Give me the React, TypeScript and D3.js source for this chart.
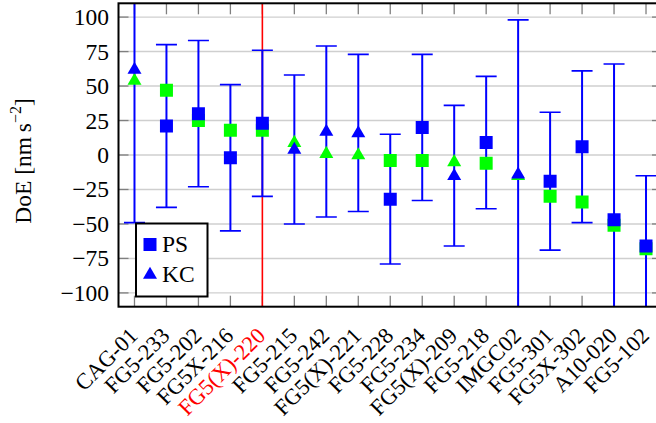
import React, { useRef, useEffect } from "react";
import * as d3 from "d3";

// 比对的仪器
const categories = [
  "CAG-01", "FG5-233", "FG5-202", "FG5X-216", "FG5(X)-220", "FG5-215",
  "FG5-242", "FG5(X)-221", "FG5-228", "FG5-234", "FG5(X)-209", "FG5-218",
  "IMGC02", "FG5-301", "FG5X-302", "A10-020", "FG5-102",
];
// PS = 方块, KC = 三角
const solution = [
  "KC", "PS", "PS", "PS", "PS", "KC", "KC", "KC", "PS", "PS", "KC", "PS",
  "KC", "PS", "PS", "PS", "PS",
];
const doe = [62, 21, 30, -2, 23, 4, 17, 16, -32, 20, -15, 9, -14, -19, 6, -47, -66];
const uncertainty = [111, 59, 53, 53, 53, 54, 62, 57, 47, 53, 51, 48, 112, 50, 55, 113, 51];
const doeOther = [54, 47, 25, 18, 18, 9, 1, 0, -4, -4, -5, -6, -15, -30, -34, -51, -68];
const yTicks = [-100, -75, -50, -25, 0, 25, 50, 75, 100];
const highlighted = "FG5(X)-220";

const W = 656;
const H = 423;
const FONT = "Liberation Serif, Tinos, DejaVu Serif, serif";
const FS = 23.5;

const trianglePath = "M0,-7.8L7,4.3L-7,4.3Z";
const squarePath = "M-6.5,-6.5H6.5V6.5H-6.5Z";

const App = () => {
  const svgRef = useRef(null);

  useEffect(() => {
    const svg = d3.select(svgRef.current);
    svg.selectAll("*").remove();

    const left = 118.5, right = 662, top = 3.3, bottom = 306.7;

    const x = d3.scalePoint().domain(categories).range([left, right]).padding(0.5);
    const y = d3.scaleLinear().domain([-110, 110]).range([bottom, top]);

    svg.append("defs").append("clipPath").attr("id", "plot-clip")
      .append("rect").attr("x", left).attr("y", top)
      .attr("width", right - left).attr("height", bottom - top);

    // 网格线
    svg.append("g").selectAll("line").data(yTicks).enter().append("line")
      .attr("x1", left).attr("x2", right)
      .attr("y1", (d) => y(d)).attr("y2", (d) => y(d))
      .attr("stroke", "#cfcfcf").attr("stroke-width", 1.4);

    // 刻度
    const ticks = svg.append("g").attr("stroke", "#7f7f7f").attr("stroke-width", 1.3);
    yTicks.forEach((t) => {
      ticks.append("line").attr("x1", left).attr("x2", left + 10).attr("y1", y(t)).attr("y2", y(t));
      ticks.append("line").attr("x1", right - 10).attr("x2", right).attr("y1", y(t)).attr("y2", y(t));
    });
    categories.forEach((c) => {
      ticks.append("line").attr("x1", x(c)).attr("x2", x(c)).attr("y1", top).attr("y2", top + 11);
      ticks.append("line").attr("x1", x(c)).attr("x2", x(c)).attr("y1", bottom - 11).attr("y2", bottom);
    });

    const plot = svg.append("g").attr("clip-path", "url(#plot-clip)");

    // 红色参考线
    plot.append("line")
      .attr("x1", x(highlighted)).attr("x2", x(highlighted))
      .attr("y1", top).attr("y2", bottom)
      .attr("stroke", "#ff0000").attr("stroke-width", 1.6);

    // 误差棒
    const bars = plot.append("g").attr("stroke", "#0000ff");
    categories.forEach((c, i) => {
      const hi = doe[i] + uncertainty[i];
      const lo = doe[i] - uncertainty[i];
      bars.append("line").attr("x1", x(c)).attr("x2", x(c))
        .attr("y1", y(hi)).attr("y2", y(lo)).attr("stroke-width", 2);
      [hi, lo].forEach((v) => {
        bars.append("line").attr("x1", x(c) - 10.5).attr("x2", x(c) + 10.5)
          .attr("y1", y(v)).attr("y2", y(v)).attr("stroke-width", 1.6);
      });
    });

    // 绿色标记
    plot.append("g").selectAll("path").data(categories).enter().append("path")
      .attr("d", (_, i) => (solution[i] === "PS" ? squarePath : trianglePath))
      .attr("transform", (c, i) => `translate(${x(c)},${y(doeOther[i])})`)
      .attr("fill", "#00ff00");

    // 蓝色标记
    plot.append("g").selectAll("path").data(categories).enter().append("path")
      .attr("d", (_, i) => (solution[i] === "PS" ? squarePath : trianglePath))
      .attr("transform", (c, i) => `translate(${x(c)},${y(doe[i])})`)
      .attr("fill", "#0000ff");

    // 边框
    svg.append("rect").attr("x", left).attr("y", top)
      .attr("width", right - left).attr("height", bottom - top)
      .attr("fill", "none").attr("stroke", "#000").attr("stroke-width", 2);

    // Y 轴标签
    svg.append("g").selectAll("text").data(yTicks).enter().append("text")
      .attr("x", 109).attr("y", (d) => y(d)).attr("dy", "0.34em")
      .attr("text-anchor", "end").attr("font-family", FONT).attr("font-size", FS)
      .text((d) => (d < 0 ? "\u2212" + Math.abs(d) : String(d)));

    // X 轴标签
    svg.append("g").selectAll("text").data(categories).enter().append("text")
      .attr("transform", (c) => `translate(${x(c) - 1},${bottom + 25}) rotate(-45)`)
      .attr("text-anchor", "end").attr("dy", "0.34em")
      .attr("font-family", FONT).attr("font-size", 22.5)
      .attr("fill", (c) => (c === highlighted ? "#ff0000" : "#000"))
      .text((c) => c);

    // 轴标题
    const yl = svg.append("text")
      .attr("transform", "translate(31,161) rotate(-90)")
      .attr("text-anchor", "middle").attr("font-family", FONT).attr("font-size", FS);
    yl.append("tspan").text("DoE [nm\u2009s");
    yl.append("tspan").attr("font-size", 16).attr("dy", -10).text("\u22122");
    yl.append("tspan").attr("dy", 10).text("]");

    // 图例
    const lg = svg.append("g");
    lg.append("rect").attr("x", 136).attr("y", 223.5).attr("width", 71.5).attr("height", 73)
      .attr("fill", "#fff").attr("stroke", "#000").attr("stroke-width", 2);
    [["PS", squarePath], ["KC", trianglePath]].forEach(([label, p], i) => {
      const cy = 244.5 + i * 30;
      lg.append("path").attr("d", p).attr("transform", `translate(150,${cy})`).attr("fill", "#0000ff");
      lg.append("text").attr("x", 162).attr("y", cy + 7.8)
        .attr("font-family", FONT).attr("font-size", FS).text(label);
    });
  }, []);

  return (
    <svg
      ref={svgRef}
      width={W}
      height={H}
      style={{ position: "absolute", left: 0, top: 0, background: "#fff" }}
    />
  );
};

export default App;
